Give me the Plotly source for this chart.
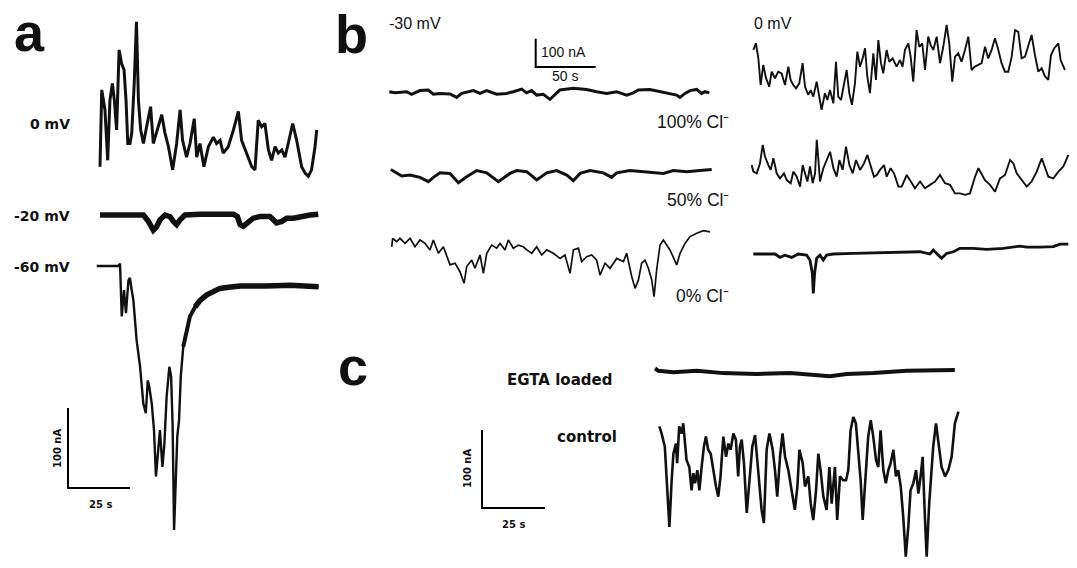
import plotly.graph_objects as go

W, H = 1077, 568

# ---------------- DATA (time in s, current in nA) ----------------
# Panel a (25 s / 100 nA scale)
A_0MV = [(0, 0), (0.3, 67), (0.7, 96), (2.0, 71), (3.1, 8), (4.0, 83), (5.0, 104), (5.8, 83), (6.7, 46),
         (7.7, 146), (8.7, 129), (9.7, 121), (10.5, 83), (11.2, 29), (12.1, 29), (12.8, 42), (13.8, 104),
         (14.7, 181), (15.5, 83), (16.4, 46), (17.5, 29), (18.8, 50), (20.4, 75), (21.5, 29), (22.8, 42),
         (24.9, 65), (26.2, 42), (27.6, 25), (29.3, -4), (30.9, 29), (32.3, 71), (33.3, 33), (34.9, 12),
         (36.3, 29), (38.0, 60), (39.0, 12), (40.3, 29), (41.9, 0), (43.7, 25), (45.7, 37), (47.0, 29),
         (48.4, 33), (49.7, 17), (51.7, 25), (53.8, 46), (55.8, 69), (57.1, 33), (59.1, 17), (61.2, 0),
         (62.5, -4), (63.8, 58), (65.2, 50), (66.5, 54), (67.9, 21), (69.2, 8), (70.6, 25), (71.9, 17),
         (73.3, 21), (74.6, 12), (75.9, 29), (77.7, 54), (79.3, 33), (81.3, 0), (82.7, -8), (84.0, -12),
         (85.3, -4), (86.7, 25), (87.4, 46)]
A_M20MV = [(0, 0), (17.5, 0), (19.5, -8), (21.5, -19), (22.8, -15), (24.2, -6), (26.2, 0), (28.2, -2),
           (29.6, -8), (30.9, -12), (32.3, -6), (34.3, 0), (40.3, 1), (53.8, 1), (55.4, -2), (56.5, -12),
           (57.8, -14), (59.8, -8), (61.8, -4), (64.5, -2), (68.5, -2), (69.9, -6), (71.2, -10), (73.3, -8),
           (75.3, -4), (78.0, -4), (80.6, -2), (84.7, 0), (88.0, 1)]
A_M60MV = [(0, 0), (8.1, 0), (8.7, 0), (9.4, 3), (10.1, -63), (11.0, -30), (11.8, -59), (12.8, -18),
           (13.4, -15), (14.1, -30), (14.8, -43), (16.1, -93), (17.5, -126), (18.8, -172), (19.8, -184),
           (20.6, -143), (21.2, -151), (22.2, -172), (23.1, -205), (23.9, -263), (24.9, -230), (25.5, -205),
           (26.5, -251), (27.3, -222), (28.2, -163), (29.3, -126), (30.0, -138), (30.6, -197), (31.2, -330),
           (31.9, -259), (32.5, -213), (33.2, -193), (33.9, -138), (34.9, -101), (36.3, -80), (37.6, -63),
           (39.7, -51), (41.7, -43), (44.4, -36), (47.0, -32), (49.7, -28), (52.4, -27), (55.1, -26),
           (57.8, -25), (68.5, -25), (78.0, -24), (89.4, -26)]

# Panel b (50 s / 100 nA scale), -30 mV column
B_M30_CL100 = [(0, 0), (4.7, -4), (14.4, 0), (18.6, -9), (25.6, 4), (32.5, 6), (36.7, -9), (42.2, -6),
               (50.6, -8), (56.1, -20), (60.3, -6), (70.0, 4), (75.6, -6), (81.1, 4), (89.4, -9), (97.8, -6),
               (103.3, 0), (110.3, 9), (114.4, -4), (118.6, 4), (122.8, -12), (128.3, -9), (133.9, -27),
               (138.1, -12), (142.2, 6), (153.3, 12), (164.4, 8), (172.8, 0), (181.1, -6), (189.4, 0),
               (197.8, -12), (203.3, -4), (207.5, 6), (217.2, 8), (225.6, 0), (233.9, -6), (239.4, -12),
               (242.2, -20), (246.4, -6), (250.6, 4), (256.1, 8), (260.3, -6), (263.1, 0), (266.7, -4)]
B_M30_CL50 = [(0, 8), (3.6, 0), (9.2, -15), (16.1, -12), (24.4, -20), (31.4, -35), (35.6, -20), (41.1, -4),
              (49.4, -6), (56.4, -39), (63.3, -18), (71.7, 4), (80.0, -4), (89.7, -35), (99.4, -6), (105.0, 4),
              (113.3, 0), (121.7, -29), (130.0, -4), (138.3, 4), (146.7, -12), (152.2, -32), (157.8, -6),
              (166.1, 4), (177.2, -4), (184.2, -20), (188.3, -4), (199.4, 4), (213.3, 0), (227.2, -6),
              (235.6, 4), (246.7, 0), (257.8, 4), (267.5, 8)]
B_M30_CL0 = [(0, -24), (0.8, 6), (4.2, -6), (6.9, 6), (11.1, -12), (15.3, 6), (19.4, -24), (23.6, 0),
             (27.8, -12), (31.9, -35), (34.7, 0), (38.9, -47), (43.1, -24), (45.8, -53), (48.6, -88),
             (52.8, -82), (56.9, -112), (60.3, -153), (62.5, -94), (66.7, -71), (69.4, -100), (73.6, -53),
             (76.4, -118), (79.2, -47), (83.3, -18), (87.5, -29), (90.3, -12), (94.4, -35), (97.2, 0),
             (101.4, -29), (105.6, -18), (109.7, -24), (112.5, -35), (116.7, -47), (120.8, -24), (125.0, -53),
             (129.2, -35), (134.7, -47), (140.3, -65), (144.4, -53), (148.6, -118), (151.4, -35), (155.6, -29),
             (158.3, -76), (162.5, -59), (166.7, -53), (170.8, -71), (173.6, -124), (177.8, -82), (181.9, -100),
             (187.5, -65), (193.1, -76), (195.8, -47), (200.0, -129), (202.8, -171), (205.6, -141), (208.3, -82),
             (211.1, -71), (213.9, -100), (216.7, -141), (218.6, -200), (220.8, -106), (223.6, -18), (226.4, 0),
             (231.9, -35), (237.5, -88), (240.3, -47), (244.4, -12), (248.6, 12), (254.2, 24), (259.7, 33),
             (265.3, 29)]
# Panel b, 0 mV column
B_0_CL100 = [(0.0, 118), (2.2, 141), (4.2, 88), (6.1, -6), (8.3, 65), (10.6, 18), (13.3, -12), (15.3, 41),
             (18.1, 18), (20.8, 41), (23.6, 35), (26.4, -6), (29.2, 59), (31.1, 12), (33.3, -6), (35.6, -18),
             (38.3, 0), (41.1, 71), (43.1, -12), (45.8, -41), (47.8, -24), (50.0, -47), (52.8, 6), (54.7, -47),
             (56.9, -94), (59.7, -35), (61.7, -59), (63.9, -24), (66.7, -71), (68.9, 76), (70.8, -47),
             (73.1, -59), (75.6, 0), (77.8, 47), (80.0, -35), (82.2, -76), (84.7, 0), (86.7, 112), (88.9, 59),
             (91.1, 88), (93.1, 124), (95.0, 24), (97.2, -35), (100.0, 106), (102.2, 12), (104.2, 153),
             (106.4, 71), (108.3, 35), (111.1, 118), (113.3, 76), (116.1, 88), (119.4, 59), (122.2, 82),
             (124.4, 59), (126.4, 118), (129.2, 141), (131.1, 94), (133.3, 6), (136.1, 188), (138.3, 129),
             (140.8, 141), (143.1, 47), (145.8, 165), (147.8, 135), (150.0, 118), (152.8, 165), (155.6, 71),
             (158.3, 129), (161.1, 206), (163.3, 141), (165.8, 6), (168.1, 94), (170.8, 106), (173.6, 76),
             (176.4, 118), (179.2, 165), (181.9, 47), (184.7, 59), (187.5, 65), (190.3, 71), (193.1, 129),
             (195.8, 88), (198.6, 118), (201.4, 159), (204.2, 118), (206.9, 71), (209.7, 41), (212.5, 41),
             (215.3, 94), (218.1, 188), (220.8, 182), (223.6, 88), (226.4, 94), (229.2, 135), (231.9, 171),
             (234.7, 100), (237.5, 41), (240.3, 53), (243.1, 24), (245.8, 12), (248.1, 100), (250.8, 124),
             (254.2, 141), (256.1, 82), (259.7, 47)]
B_0_CL50 = [(0.0, 29), (1.4, 6), (4.2, 0), (6.9, 35), (9.2, 100), (11.1, 59), (13.9, 29), (15.8, 12), (18.1, 53),
            (20.8, 0), (23.6, -18), (26.9, 0), (29.2, -24), (32.5, -35), (34.7, 6), (37.5, -12), (40.3, -47),
            (42.5, 29), (44.4, 0), (46.4, -29), (48.6, 24), (50.8, -35), (52.8, 0), (54.2, 118), (55.6, 47),
            (56.9, -29), (59.7, 18), (62.5, 47), (65.3, 76), (68.1, 18), (70.8, -12), (73.1, 47), (75.8, 12),
            (78.6, 94), (81.4, 29), (84.2, 0), (86.9, 47), (90.3, 12), (93.6, 35), (96.4, 65), (99.2, 24),
            (101.9, -12), (104.2, -6), (106.9, 12), (110.3, 29), (112.5, -12), (115.8, 18), (118.6, 0),
            (122.2, -47), (125.0, -47), (129.2, -6), (131.9, -24), (136.1, -53), (140.3, -29), (144.4, -53),
            (148.6, -41), (152.8, -29), (156.9, -6), (161.1, -35), (165.3, -41), (169.4, -71), (173.6, -71),
            (177.8, -76), (181.9, -71), (186.1, -12), (188.9, 18), (191.7, -6), (194.4, -24), (198.6, -41),
            (202.8, -65), (206.9, -18), (211.1, -6), (215.3, 47), (218.1, 35), (220.8, 0), (225.0, -24),
            (229.2, -47), (233.3, -29), (237.5, 6), (241.7, 53), (244.4, 18), (247.2, -12), (251.4, -18),
            (255.6, 6), (259.7, 24), (263.9, 65)]
B_0_CL0 = [(0, 0), (18.1, 0), (22.2, -12), (26.4, -4), (31.9, -12), (37.5, 0), (44.4, -4), (47.2, -21),
           (49.2, -68), (50.0, -139), (51.1, -68), (52.8, -15), (55.6, -4), (58.3, -21), (61.1, -4), (66.7, 0),
           (83.3, 2), (111.1, 5), (138.9, 8), (147.2, 0), (150.0, 14), (154.2, -4), (156.9, -15), (161.1, 2),
           (166.7, 8), (172.2, 20), (183.3, 20), (194.4, 16), (208.3, 20), (222.2, 28), (227.8, 24), (238.9, 24),
           (250.0, 26), (255.6, 35), (262.5, 35)]

# Panel c (25 s / 100 nA scale)
C_EGTA = [(0, 2), (1.3, -1), (7.3, -3), (16.5, -1), (27.1, -4), (40.3, -5), (53.6, -4), (60.2, -6), (69.4, -8),
          (76.1, -5), (86.6, -4), (99.9, -1), (110.4, 0), (119.0, 0)]
C_CONTROL = [(0.0, 26), (0.9, 17), (2.2, 0), (3.2, -56), (4.0, -103), (4.9, -43), (5.6, -9), (6.6, 4), (7.1, -21),
             (7.9, 26), (8.9, 17), (9.5, 30), (10.2, 9), (10.8, -17), (11.9, -26), (12.8, -56), (13.5, -34),
             (14.2, -47), (15.1, -30), (15.9, -56), (16.8, -26), (17.7, 0), (18.5, 13), (19.4, -4), (20.4, -9),
             (21.4, -30), (22.5, -51), (23.4, -64), (24.3, -38), (25.4, 13), (26.5, -13), (27.4, 4), (28.3, -4),
             (29.4, 17), (30.4, 9), (31.3, -38), (32.0, 0), (32.7, 9), (33.6, -21), (34.7, -85), (36.0, -30),
             (36.9, 0), (38.0, 15), (39.3, -30), (40.6, -81), (41.5, -98), (42.6, -4), (43.7, 17), (45.0, -4),
             (45.9, -30), (46.8, -64), (47.9, -13), (48.9, 17), (49.9, -13), (51.2, -30), (52.5, -56), (53.8, -81),
             (54.8, -51), (55.6, -4), (56.9, -21), (57.8, -51), (59.1, -38), (60.1, -73), (61.1, -94), (62.2, -56),
             (63.1, -9), (64.0, -30), (65.1, -64), (66.4, -81), (67.5, -26), (68.4, -73), (69.7, -26), (70.6, -94),
             (71.7, -38), (73.0, -43), (74.1, -43), (75.0, -30), (75.9, 21), (77.0, 38), (78.0, 30), (79.0, -13),
             (79.9, -43), (80.7, -94), (81.7, -43), (82.9, 13), (83.9, 34), (84.9, 13), (86.0, -17), (86.9, -26),
             (87.8, 21), (88.9, -30), (89.9, -47), (90.9, -30), (91.8, -21), (92.9, -4), (93.9, -38), (94.8, -30),
             (95.8, -51), (96.8, -90), (97.8, -141), (98.8, -103), (99.7, -56), (100.8, -47), (101.9, -30),
             (102.8, -60), (103.7, -38), (104.5, -13), (105.4, -90), (106.1, -141), (107.1, -73), (108.1, -21),
             (108.7, 0), (109.8, 30), (110.7, 9), (112.0, -26), (113.4, -38), (114.7, -30), (116.0, -13),
             (117.3, 30), (118.7, 45)]

# Scale bars: (seconds, nA)
SCALE_A = (25, 100)
SCALE_B = (50, 100)
SCALE_C = (25, 100)

# ---------------- FIGURE ----------------
fig = go.Figure()
_k = [0]


def add_signal(pairs, x0, y0, px_s, px_na, width, color="#111111"):
    """Each trace gets its own full-figure axis pair with a scale in px per s / px per nA."""
    _k[0] += 1
    k = _k[0]
    sx = "" if k == 1 else str(k)
    t = [p[0] for p in pairs]
    v = [p[1] for p in pairs]
    fig.add_trace(go.Scatter(x=t, y=v, mode="lines", xaxis="x" + sx, yaxis="y" + sx,
                             line=dict(color=color, width=width), hoverinfo="skip"))
    fig.update_layout(**{
        "xaxis" + sx: dict(domain=[0, 1], range=[-x0 / px_s, (W - x0) / px_s], visible=False,
                           anchor="y" + sx, fixedrange=True),
        "yaxis" + sx: dict(domain=[0, 1], range=[-(H - y0) / px_na, y0 / px_na], visible=False,
                           anchor="x" + sx, fixedrange=True),
    })


def scale_bar(scale, x0, y0, px_s, px_na):
    sec, na = scale
    add_signal([(0, na), (0, 0), (sec, 0)], x0, y0, px_s, px_na, 2, color="#000000")


# panel a: 2.48 px/s, 0.8 px/nA
PA = (2.48, 0.8)
add_signal(A_0MV, 100, 166.7, *PA, width=3)
add_signal(A_M20MV, 100, 215, *PA, width=5.5)
add_signal(A_M60MV, 96.7, 266, *PA, width=2.4)
# noisy plateau of the -60 mV recovery drawn as a thicker band (same data, later part)
add_signal([p for p in A_M60MV if p[0] >= 34.9], 96.7, 266, *PA, width=4)
add_signal([p for p in A_M60MV if p[0] >= 39.7], 96.7, 266, *PA, width=5.5)
scale_bar(SCALE_A, 68, 488, *PA)

# panel b: 1.2 px/s, 0.283 px/nA
PB = (1.2, 0.283)
add_signal(B_M30_CL100, 389.3, 91.7, *PB, width=3)
add_signal(B_M30_CL50, 390.7, 171.7, *PB, width=3)
add_signal(B_M30_CL0, 391.7, 240, *PB, width=1.7)
add_signal(B_0_CL100, 753.3, 83.3, *PB, width=1.9)
add_signal(B_0_CL50, 751.7, 173.3, *PB, width=1.9)
add_signal(B_0_CL0, 753.3, 254, *PB, width=2.8)
scale_bar(SCALE_B, 535.7, 67, *PB)

# panel c: 2.52 px/s, 0.78 px/nA
PC = (2.52, 0.78)
add_signal(C_EGTA, 655, 370, *PC, width=4)
add_signal(C_CONTROL, 659.3, 446.7, *PC, width=2.6)
scale_bar(SCALE_C, 482, 508, *PC)


def label(x, y, s, size, family, xanchor="left", angle=0, bold=False, color="#111111"):
    fig.add_annotation(x=x / W, y=1 - y / H, xref="paper", yref="paper", text=s, showarrow=False,
                       xanchor=xanchor, yanchor="middle", textangle=angle,
                       font=dict(size=size, family=family, color=color,
                                 weight="bold" if bold else "normal"))


BOLD = "DejaVu Sans"
ARIAL = "Liberation Sans, Arial"

label(29, 32, "a", 54, ARIAL, "center", bold=True)
label(351, 34, "b", 54, ARIAL, "center", bold=True)
label(353, 366, "c", 54, ARIAL, "center", bold=True)

label(72, 124, "0 mV", 14, BOLD, "right", bold=True)
label(72, 216, "-20 mV", 14, BOLD, "right", bold=True)
label(72, 267, "-60 mV", 14, BOLD, "right", bold=True)
label(57, 449, "100 nA", 10, BOLD, "center", angle=-90, bold=True)
label(100, 504, "25 s", 10, BOLD, "center", bold=True)

label(387, 24, "-30 mV", 16, ARIAL, "left")
label(539, 52, "100 nA", 14, ARIAL, "left")
label(565, 76, "50 s", 14, ARIAL, "center")
label(731, 122, "100% Cl\u207b", 17.5, ARIAL, "right")
label(731, 200, "50% Cl\u207b", 17.5, ARIAL, "right")
label(731, 296, "0% Cl\u207b", 17.5, ARIAL, "right")
label(752, 24, "0 mV", 16, ARIAL, "left")

label(505, 380, "EGTA loaded", 15, BOLD, "left", bold=True)
label(555, 437, "control", 15, BOLD, "left", bold=True)
label(467, 469, "100 nA", 10, BOLD, "center", angle=-90, bold=True)
label(513, 524, "25 s", 10, BOLD, "center", bold=True)

fig.update_layout(width=W, height=H, margin=dict(l=0, r=0, t=0, b=0),
                  paper_bgcolor="white", plot_bgcolor="rgba(0,0,0,0)", showlegend=False)

fig.write_html("out.html")
